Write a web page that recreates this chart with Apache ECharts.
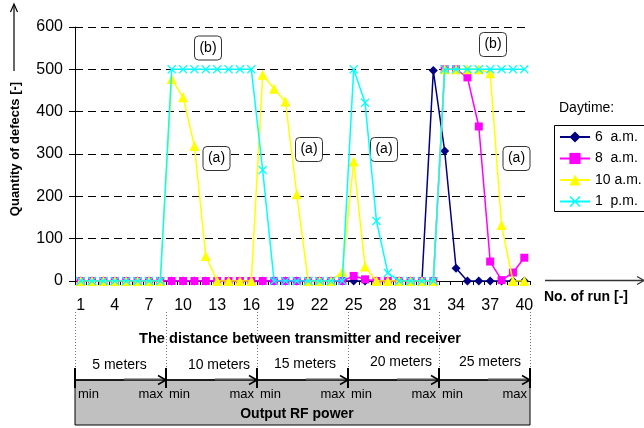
<!DOCTYPE html>
<html>
<head>
<meta charset="utf-8">
<script src="https://cdn.jsdelivr.net/npm/echarts@6/dist/echarts.min.js"></script>
<style>
html,body{margin:0;padding:0;background:#fff;}
#c{width:644px;height:428px;}
</style>
</head>
<body>
<div id="c"></div>
<script>
// ---- data ----
var runs = [];
for (var i = 1; i <= 40; i++) runs.push(String(i));

var seriesNames = ['6  a.m.', '8  a.m.', '10 a.m.', '1  p.m.'];

var am6 = [0,0,0,0,0,0,0,0, 0,0,0,0,0,0,0,0, 0,0,0,0,0,0,0,0, 0,0,0,0,0,0,0,497, 307,30,0,0,0,0,0,0];
var am8 = [0,0,0,0,0,0,0,0, 0,0,0,0,0,0,0,0, 0,0,0,0,0,0,0,0, 12,4,0,0,0,0,0,0, 500,500,481,365,46,2,20,55];
var am10 = [0,0,0,0,0,0,0,0, 477,434,319,59,0,0,0,0, 487,454,424,205,0,0,0,22, 282,34,0,0,0,0,0,0, 500,500,500,500,491,132,0,0];
var pm1 = [0,0,0,0,0,0,0,0, 500,500,500,500,500,500,500,500, 262,0,0,0,0,0,0,0, 500,421,142,19,0,0,0,0, 500,500,500,500,500,500,500,500];

var yTicks = [0,100,200,300,400,500,600];
var distanceLabels = ['5 meters', '10 meters', '15 meters', '20 meters', '25 meters'];
var noteLabels = [
  {t:'(b)', cx:208, cy:48},
  {t:'(a)', cx:216.5, cy:158.5},
  {t:'(a)', cx:309, cy:149.5},
  {t:'(a)', cx:384, cy:149.5},
  {t:'(b)', cx:493, cy:44.5},
  {t:'(a)', cx:516.5, cy:158.5}
];

// ---- layout ----
var FONT = 'Liberation Sans, Arial, sans-serif';
var G = {left:75, top:27, width:455, height:254};
var xSym = 'path://M0,1L1,0L5,4L9,0L10,1L6,5L10,9L9,10L5,6L1,10L0,9L4,5Z';

var chart = echarts.init(document.getElementById('c'), null, {renderer:'canvas'});

function mkSeries(name, data, color, symbol, size, z) {
  return {
    name: name, type: 'line', data: data,
    symbol: symbol, symbolSize: size, showSymbol: true, showAllSymbol: true,
    lineStyle: {color: color, width: 1.5},
    itemStyle: {color: color, borderWidth: 0},
    z: z, animation: false, emphasis: {disabled: true}
  };
}

var graphics = [];
// annotation boxes
noteLabels.forEach(function (n) {
  graphics.push({type:'rect', z:1, shape:{x:n.cx-13.5, y:n.cy-12, width:27, height:24, r:4},
    style:{fill:'#fff', stroke:'#333', lineWidth:1}});
  graphics.push({type:'text', z:1, x:n.cx, y:n.cy, style:{text:n.t, font:'14px '+FONT, fill:'#000', align:'center', verticalAlign:'middle'}});
});

// y axis title + arrow
graphics.push({type:'text', x:15, y:149, rotation:Math.PI/2,
  style:{text:'Quantity of defects [-]', font:'bold 13px '+FONT, fill:'#000', align:'center', verticalAlign:'middle'}});
graphics.push({type:'line', shape:{x1:14, y1:71, x2:14, y2:5}, style:{stroke:'#000', lineWidth:1.2}});
graphics.push({type:'polyline', shape:{points:[[10.5,12],[14,4],[17.5,12]]}, style:{stroke:'#000', lineWidth:1.2, fill:null}});

// x axis arrow + title
graphics.push({type:'line', shape:{x1:545, y1:280.5, x2:643, y2:280.5}, style:{stroke:'#333', lineWidth:1.5}});
graphics.push({type:'polyline', shape:{points:[[637,276.5],[644,280.5],[637,284.5]]}, style:{stroke:'#333', lineWidth:1.2, fill:null}});
graphics.push({type:'text', x:544, y:297, style:{text:'No. of run [-]', font:'bold 14px '+FONT, fill:'#000', align:'left', verticalAlign:'middle'}});

// legend title and frame (frame runs past the right edge, as in the original)
graphics.push({type:'text', x:559, y:108, style:{text:'Daytime:', font:'14px '+FONT, fill:'#000', align:'left', verticalAlign:'middle'}});
graphics.push({type:'rect', z:0, shape:{x:554.5, y:125.5, width:100, height:86},
  style:{fill:'#fff', stroke:'#000', lineWidth:1}});

// bottom schematic
var bx = [];
for (var k = 0; k <= 5; k++) bx.push(Math.round(G.left + k * G.width / 5));
var boxTop = 380, boxBot = 425;
graphics.push({type:'rect', shape:{x:bx[0], y:boxTop, width:bx[5]-bx[0], height:boxBot-boxTop},
  style:{fill:'#C0C0C0', stroke:'#000', lineWidth:1}});
bx.forEach(function (b) {
  graphics.push({type:'line', shape:{x1:b+0.5, y1:312, x2:b+0.5, y2:368}, style:{stroke:'#777', lineWidth:1, lineDash:[1,2]}});
  graphics.push({type:'line', shape:{x1:b, y1:368, x2:b, y2:388}, style:{stroke:'#000', lineWidth:2}});
});
graphics.push({type:'line', shape:{x1:bx[0], y1:boxTop, x2:bx[5], y2:boxTop}, style:{stroke:'#000', lineWidth:1.5}});
var segCenters = [119.5, 219, 305, 401, 490];
var segY = [365, 365, 364, 362, 362];
for (var s = 0; s < 5; s++) {
  var b = bx[s+1];
  graphics.push({type:'line', shape:{x1:b-42, y1:boxTop-0.5, x2:b-3, y2:boxTop-0.5}, style:{stroke:'#555', lineWidth:2}});
  graphics.push({type:'polyline', shape:{points:[[b-8,boxTop-4.5],[b,boxTop],[b-8,boxTop+4.5]]}, style:{stroke:'#000', lineWidth:1.5, fill:null}});
  graphics.push({type:'text', x:segCenters[s], y:segY[s], style:{text:distanceLabels[s], font:'14px '+FONT, fill:'#000', align:'center', verticalAlign:'middle'}});
  graphics.push({type:'text', x:bx[s]+3, y:394, style:{text:'min', font:'13px '+FONT, fill:'#000', align:'left', verticalAlign:'middle'}});
  graphics.push({type:'text', x:b-3, y:394, style:{text:'max', font:'13px '+FONT, fill:'#000', align:'right', verticalAlign:'middle'}});
}
graphics.push({type:'text', x:300, y:339, style:{text:'The distance between transmitter and receiver', font:'bold 14.6px '+FONT, fill:'#000', align:'center', verticalAlign:'middle'}});
graphics.push({type:'text', x:297, y:414, style:{text:'Output RF power', font:'bold 14px '+FONT, fill:'#000', align:'center', verticalAlign:'middle'}});

var option = {
  animation: false,
  backgroundColor: '#fff',
  textStyle: {fontFamily: FONT},
  grid: {left:G.left, top:G.top, width:G.width, height:G.height, containLabel:false},
  xAxis: {
    type: 'category', data: runs, boundaryGap: true,
    axisLine: {show:true, lineStyle:{color:'#000', width:1}},
    axisTick: {show:true, interval:0, length:4, inside:false, lineStyle:{color:'#000'}},
    axisLabel: {interval:2, fontSize:16, color:'#000', margin:17, fontFamily:FONT},
    splitLine: {show:false}
  },
  yAxis: {
    type: 'value', min: yTicks[0], max: yTicks[yTicks.length-1], interval: 100,
    axisLine: {show:true, lineStyle:{color:'#000', width:1}},
    axisTick: {show:true, length:6, inside:false, lineStyle:{color:'#000'}},
    axisLabel: {fontSize:16, color:'#000', margin:12, fontFamily:FONT},
    splitLine: {show:true, lineStyle:{color:'#000', width:1, type:[8,5]}}
  },
  legend: {
    orient: 'vertical', left: 554, top: 125,
    data: seriesNames,
    borderWidth: 0, backgroundColor: 'transparent',
    padding: [5, 5, 3, 5],
    itemWidth: 30, itemHeight: 14, itemGap: 7.5,
    textStyle: {fontSize:14, color:'#000', fontFamily:FONT, lineHeight:14},
    selectedMode: false
  },
  series: [
    mkSeries(seriesNames[0], am6, '#000080', 'diamond', 9, 2),
    mkSeries(seriesNames[1], am8, '#FF00FF', 'rect', 8, 3),
    mkSeries(seriesNames[2], am10, '#FFFF00', 'triangle', 10, 4),
    mkSeries(seriesNames[3], pm1, '#00FFFF', xSym, 9, 5)
  ],
  graphic: graphics
};
chart.setOption(option);
</script>
</body>
</html>
